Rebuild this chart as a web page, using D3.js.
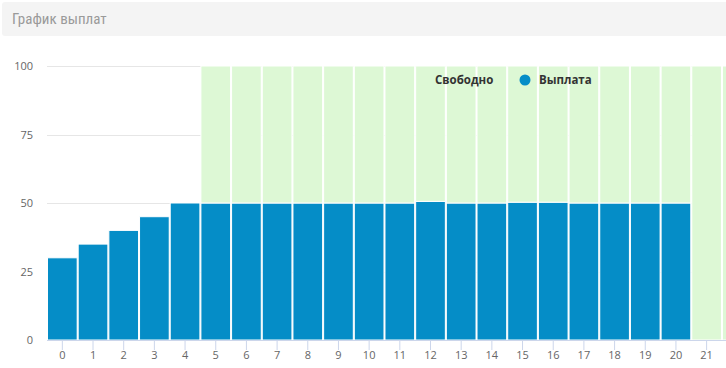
<!DOCTYPE html>
<html>
<head>
<meta charset="utf-8">
<script src="https://cdn.jsdelivr.net/npm/d3@7"></script>
<style>
  body { margin: 0; background: #fff; }
  svg { display: block; }
</style>
</head>
<body>
<div id="chart"></div>
<script>
// payout schedule
const periods = d3.range(0, 23).map(String);
const payout = [30, 35, 40, 45, 50, 50, 50, 50, 50, 50, 50, 50, 50.6, 50, 50, 50.3, 50.3, 50, 50, 50, 50, 0, 0];
const free = [0, 0, 0, 0, 0, 50, 50, 50, 50, 50, 50, 50, 49.4, 50, 50, 49.7, 49.7, 50, 50, 50, 50, 100, 100];
const yTicks = [0, 25, 50, 75, 100];
const seriesNames = ["Свободно", "Выплата"];

const width = 726, height = 368;
const plotLeft = 47, plotTop = 66, plotBottom = 340;
const step = 30.68;

const svg = d3.select("#chart").append("svg")
  .attr("width", width)
  .attr("height", height);

// header bar
svg.append("rect")
  .attr("x", 2).attr("y", 2)
  .attr("width", 740).attr("height", 34)
  .attr("rx", 3)
  .attr("fill", "#f4f4f4");
svg.append("text")
  .attr("x", 12).attr("y", 24)
  .attr("font-family", "'Roboto Condensed', 'Liberation Sans Narrow', Roboto, sans-serif")
  .attr("font-size", 15)
  .attr("fill", "#9a9a9a")
  .text("График выплат");

const x = d3.scaleBand()
  .domain(periods)
  .range([plotLeft, plotLeft + step * periods.length])
  .padding(0);

const y = d3.scaleLinear()
  .domain([0, 100])
  .range([plotBottom, plotTop]);

// grid
svg.append("g")
  .selectAll("line")
  .data(yTicks.filter(d => d > 0))
  .enter()
  .append("line")
  .attr("x1", plotLeft).attr("x2", width)
  .attr("y1", d => Math.round(y(d)) + 0.5)
  .attr("y2", d => Math.round(y(d)) + 0.5)
  .attr("stroke", "#e6e6e6");

// y labels
svg.append("g")
  .selectAll("text")
  .data(yTicks)
  .enter()
  .append("text")
  .attr("x", 33)
  .attr("y", d => y(d) + 4)
  .attr("text-anchor", "end")
  .attr("font-family", "'Open Sans', sans-serif")
  .attr("font-size", 11)
  .attr("fill", "#666")
  .text(d => d);

// stacked columns
const bars = svg.append("g");
bars.selectAll("rect.payout")
  .data(periods)
  .enter()
  .append("rect")
  .attr("class", "payout")
  .attr("x", d => x(d) + 0.5)
  .attr("y", (d, i) => y(payout[i]))
  .attr("width", x.bandwidth() - 1)
  .attr("height", (d, i) => y(0) - y(payout[i]))
  .attr("fill", "#058dc7")
  .attr("stroke", "#fff")
  .attr("stroke-width", 1);

bars.selectAll("rect.free")
  .data(periods)
  .enter()
  .append("rect")
  .attr("class", "free")
  .attr("x", d => x(d) + 0.5)
  .attr("y", (d, i) => y(payout[i] + free[i]))
  .attr("width", x.bandwidth() - 1)
  .attr("height", (d, i) => y(payout[i]) - y(payout[i] + free[i]))
  .attr("fill", "#ddf8d5")
  .attr("stroke", "#fff")
  .attr("stroke-width", 1);

// x axis (last category is clipped by the frame, so only show labels that fit)
const xAxis = svg.append("g")
  .attr("transform", `translate(0,${plotBottom})`)
  .call(d3.axisBottom(x)
    .tickValues(periods.filter(d => x(d) + x.bandwidth() / 2 + 8 < width))
    .tickSize(10).tickSizeOuter(0));
xAxis.select(".domain").attr("stroke", "#ccd6eb").attr("d", `M${plotLeft},0.5H${width}`);
xAxis.selectAll(".tick line").attr("stroke", "#ccd6eb");
xAxis.selectAll(".tick text")
  .attr("y", 11)
  .attr("font-family", "'Open Sans', sans-serif")
  .attr("font-size", 11)
  .attr("fill", "#666");

// legend
const legend = svg.append("g").attr("font-family", "'Open Sans', sans-serif")
  .attr("font-size", 11.5).attr("font-weight", "bold").attr("fill", "#333");
legend.append("circle").attr("cx", 423).attr("cy", 80).attr("r", 5.5).attr("fill", "#ddf8d5");
legend.append("text").attr("x", 435).attr("y", 84).text(seriesNames[0]);
legend.append("circle").attr("cx", 525).attr("cy", 80).attr("r", 5.5).attr("fill", "#058dc7");
legend.append("text").attr("x", 539).attr("y", 84).text(seriesNames[1]);
</script>
</body>
</html>
